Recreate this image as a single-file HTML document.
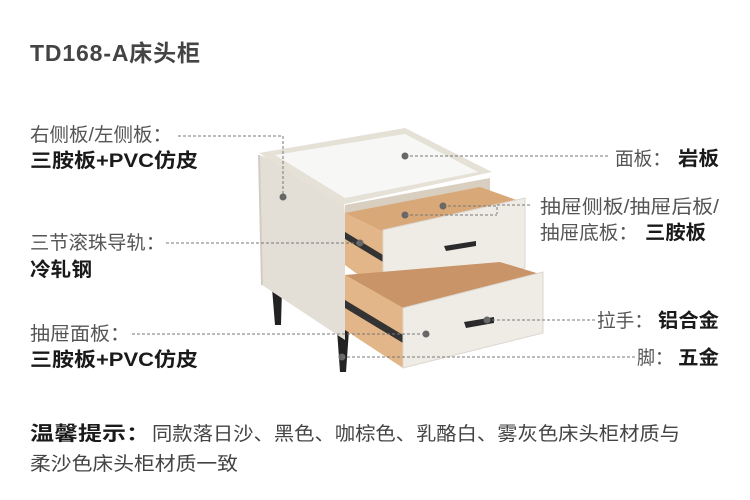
<!DOCTYPE html>
<html><head><meta charset="utf-8"><style>
html,body{margin:0;padding:0;background:#fff;}
svg{display:block;}
text{font-family:"Liberation Sans","Noto Sans CJK SC",sans-serif;}
.l{font-size:19px;fill:#555;}
.b{font-size:19.5px;fill:#1a1a1a;font-weight:bold;}
.d{stroke:#777;stroke-width:1;stroke-dasharray:3,2;fill:none;}
</style></head><body>
<svg width="750" height="500" viewBox="0 0 750 500" xmlns="http://www.w3.org/2000/svg">
<text x="30" y="61" font-size="23" font-weight="bold" fill="#444" textLength="170" lengthAdjust="spacing">TD168-A床头柜</text>

<polygon points="272,288 282,288 281,325 275,325" fill="#222"/>
<polygon points="337,330 349,330 346,372 340,372" fill="#222"/>
<path d="M259,155 L330,180 Q345,195 345,215 L345,340 L262,285 Z" fill="#e4dfd6"/>
<path d="M259,155 L262,285" stroke="#d2ccc2" stroke-width="2"/>
<polygon points="345,205 490,178 490,200 345,222" fill="#d8cfc0"/>
<polygon points="259,153 405,128 492,172 340,205" fill="#e6e1d7"/>
<polygon points="275,155 405,134 478,172 345,198" fill="#f7f7f6"/>
<polygon points="345,213 480,187 525,203 383,232" fill="#d9a878"/>
<polygon points="345,213 383,232 383,293 345,265" fill="#e2b688"/>
<polygon points="345,232 383,255 383,262 345,239" fill="#333"/>
<polygon points="383,230 525,198 525,268 383,293" fill="#efece6" stroke="#dcd7cf"/>
<polygon points="444,246 476,241 476,246 446,251" fill="#2a2a2a"/>
<polygon points="345,275 500,262 543,275 403,308" fill="#c89468"/>
<polygon points="345,275 403,308 403,368 345,330" fill="#e2b688"/>
<polygon points="345,300 403,335 403,343 345,308" fill="#333"/>
<polygon points="403,308 543,272 543,333 403,368" fill="#efece6" stroke="#dcd7cf"/>
<polygon points="464,322 494,317 494,323 466,328" fill="#2a2a2a"/>

<g fill="#666">
<circle cx="283" cy="197" r="3.5"/><circle cx="405" cy="156" r="3.5"/>
<circle cx="443" cy="206" r="3.5"/><circle cx="405" cy="215" r="3.5"/>
<circle cx="360" cy="243" r="3.5"/><circle cx="487" cy="320" r="3.5"/>
<circle cx="426" cy="334" r="3.5"/><circle cx="342" cy="357" r="3.5"/>
</g>
<path class="d" d="M178,136 L283,136 L283,197"/>
<path class="d" d="M405,156 L610,156"/>
<path class="d" d="M443,206 L497,206 L497,214 M405,215 L497,215 M497,205 L530,205"/>
<path class="d" d="M166,243 L360,243"/>
<path class="d" d="M487,320 L595,320"/>
<path class="d" d="M132,334 L426,334"/>
<path class="d" d="M342,357 L635,357"/>

<text class="l" x="30" y="141" textLength="142" lengthAdjust="spacingAndGlyphs">右侧板/左侧板：</text>
<text class="b" x="30" y="167" textLength="168" lengthAdjust="spacingAndGlyphs">三胺板+PVC仿皮</text>
<text class="l" x="30" y="249" textLength="135" lengthAdjust="spacingAndGlyphs">三节滚珠导轨：</text>
<text class="b" x="30" y="276" textLength="62" lengthAdjust="spacingAndGlyphs">冷轧钢</text>
<text class="l" x="30" y="340" textLength="100" lengthAdjust="spacingAndGlyphs">抽屉面板：</text>
<text class="b" x="30" y="366" textLength="168" lengthAdjust="spacingAndGlyphs">三胺板+PVC仿皮</text>
<text class="l" x="615" y="165" textLength="56" lengthAdjust="spacingAndGlyphs">面板：</text>
<text class="b" x="678" y="165" textLength="41" lengthAdjust="spacingAndGlyphs">岩板</text>
<text class="l" x="540" y="213" textLength="179" lengthAdjust="spacingAndGlyphs">抽屉侧板/抽屉后板/</text>
<text class="l" x="540" y="239" textLength="98" lengthAdjust="spacingAndGlyphs">抽屉底板：</text>
<text class="b" x="645" y="239" textLength="61" lengthAdjust="spacingAndGlyphs">三胺板</text>
<text class="l" x="597" y="327" textLength="56" lengthAdjust="spacingAndGlyphs">拉手：</text>
<text class="b" x="658" y="327" textLength="61" lengthAdjust="spacingAndGlyphs">铝合金</text>
<text class="l" x="637" y="364" textLength="36" lengthAdjust="spacingAndGlyphs">脚：</text>
<text class="b" x="678" y="364" textLength="41" lengthAdjust="spacingAndGlyphs">五金</text>
<text x="30" y="440" font-size="19.5" font-weight="bold" fill="#1a1a1a" textLength="120" lengthAdjust="spacingAndGlyphs">温馨提示：</text>
<text x="152" y="440" font-size="19" fill="#444" textLength="528" lengthAdjust="spacingAndGlyphs">同款落日沙、黑色、咖棕色、乳酪白、雾灰色床头柜材质与</text>
<text x="30" y="470" font-size="19" fill="#444" textLength="208" lengthAdjust="spacingAndGlyphs">柔沙色床头柜材质一致</text>
</svg>
</body></html>
